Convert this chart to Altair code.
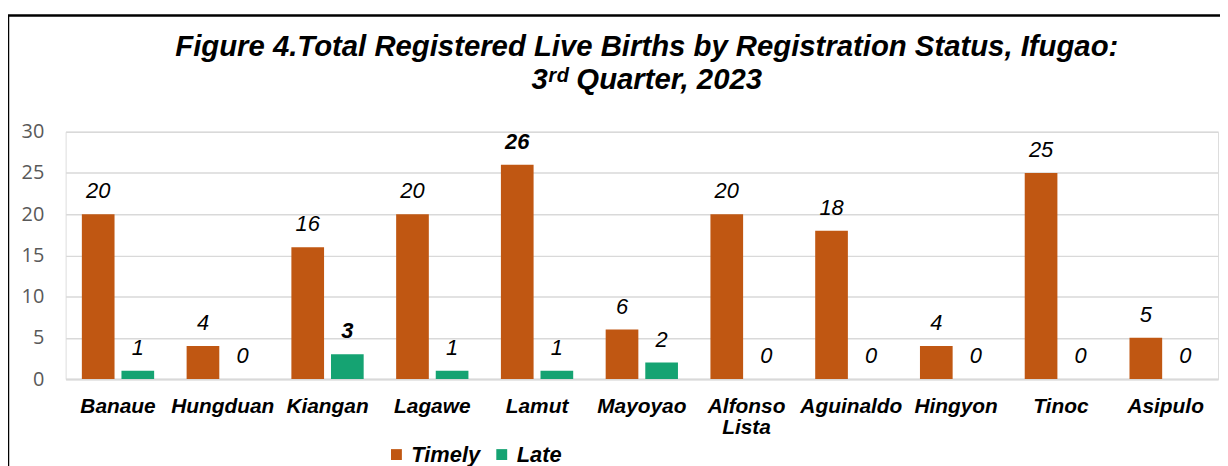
import altair as alt
import pandas as pd

municipalities = ["Banaue", "Hungduan", "Kiangan", "Lagawe", "Lamut", "Mayoyao",
                  "Alfonso Lista", "Aguinaldo", "Hingyon", "Tinoc", "Asipulo"]
timely = [20, 4, 16, 20, 26, 6, 20, 18, 4, 25, 5]
late = [1, 0, 3, 1, 1, 2, 0, 0, 0, 0, 0]
statuses = ["Timely", "Late"]
colors = ["#C05712", "#15A372"]
title_lines = ["Figure 4.Total Registered Live Births by Registration Status, Ifugao:",
               "3ʳᵈ Quarter, 2023"]

rows = []
for m, t, l in zip(municipalities, timely, late):
    rows.append({"Municipality": m, "Status": "Timely", "Births": t})
    rows.append({"Municipality": m, "Status": "Late", "Births": l})
df = pd.DataFrame(rows)

W, H = 1160, 249
FONT = "Liberation Sans"

x = alt.X("Municipality:N", sort=municipalities,
          scale=alt.Scale(paddingInner=0.31, paddingOuter=0.155),
          axis=alt.Axis(title=None, labelAngle=0, labelFont=FONT, labelFontSize=21,
                        labelFontStyle="italic", labelFontWeight="bold", labelColor="black",
                        labelPadding=17, ticks=False, domainColor="#d9d9d9", domainWidth=2,
                        labelExpr="split(datum.label, ' ')", labelLineHeight=21))
y = alt.Y("Births:Q", scale=alt.Scale(domain=[0, 30], nice=False),
          axis=alt.Axis(title=None, values=[0, 5, 10, 15, 20, 25, 30], labelFont="Open Sans",
                        labelFontSize=20, labelColor="#595959", labelPadding=22,
                        ticks=False, domain=False, gridColor="#d9d9d9", gridWidth=1.5))
xo = alt.XOffset("Status:N", sort=statuses, scale=alt.Scale(paddingInner=0.175))

base = alt.Chart(df)

bars = base.mark_bar().encode(
    x=x, y=y, xOffset=xo,
    color=alt.Color("Status:N", sort=statuses,
                    scale=alt.Scale(domain=statuses, range=colors),
                    legend=alt.Legend(title=None, orient="none", legendX=322, legendY=314,
                                      direction="horizontal", symbolType="square",
                                      symbolSize=120, symbolStrokeWidth=0,
                                      labelFont=FONT, labelFontSize=22, labelFontStyle="italic",
                                      labelFontWeight="bold", labelColor="black",
                                      labelOffset=4, columnPadding=10)),
)

with_max = base.transform_joinaggregate(mx="max(Births)", groupby=["Status"])

labels_normal = with_max.transform_filter("datum.Births != datum.mx").mark_text(
    font=FONT, fontSize=22, fontStyle="italic", color="black", baseline="alphabetic", dy=-16
).encode(x=x, y=y, xOffset=xo, text="Births:Q")

labels_bold = with_max.transform_filter("datum.Births == datum.mx").mark_text(
    font=FONT, fontSize=22, fontStyle="italic", fontWeight="bold", color="black",
    baseline="alphabetic", dy=-16
).encode(x=x, y=y, xOffset=xo, text="Births:Q")

one = alt.Chart(pd.DataFrame({"a": [0]}))

border = one.mark_rect(
    filled=False, stroke="black", strokeWidth=2.5, clip=False
).encode(x=alt.value(-58), x2=alt.value(W + 40), y=alt.value(-117), y2=alt.value(H + 300))

title = one.mark_text(
    font=FONT, fontSize=29.5, fontStyle="italic", fontWeight="bold", color="black",
    align="center", baseline="alphabetic", lineHeight=33, clip=False
).encode(x=alt.value(585), y=alt.value(-76), text=alt.value(title_lines))

chart = alt.layer(border, title, bars, labels_normal, labels_bold).properties(
    width=W, height=H,
    autosize=alt.AutoSizeParams(type="none"),
    padding={"left": 58, "top": 123, "right": 2, "bottom": 86},
).configure_view(stroke=None).configure(background="white")

chart.save("out.html", embed_options={"renderer": "svg", "actions": False})
